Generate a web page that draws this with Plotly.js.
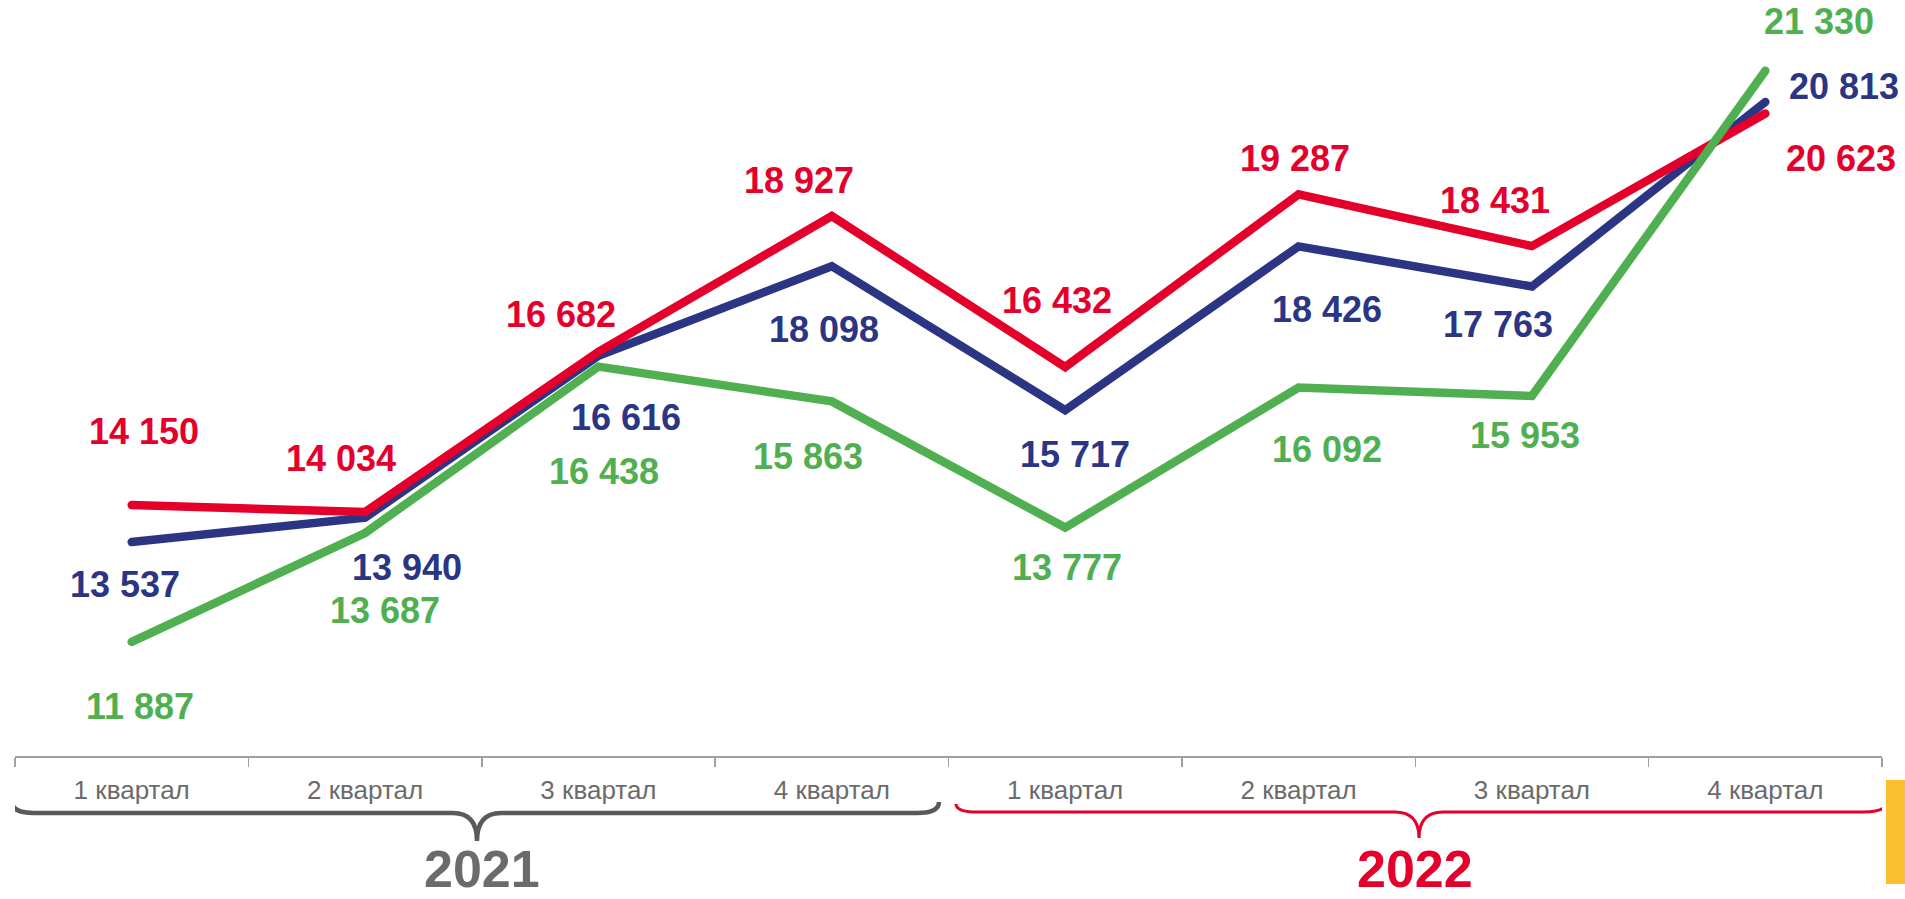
<!DOCTYPE html>
<html>
<head>
<meta charset="utf-8">
<script src="https://cdn.plot.ly/plotly-3.0.1.min.js"></script>
<style>
  html, body { margin: 0; padding: 0; background: #fff; }
  #chart { width: 1905px; height: 899px; }
  .scatterlayer .js-line { stroke-linecap: round; }
</style>
</head>
<body>
<div id="chart"></div>
<script>
// ---------- data ----------
const quarters = ['1 квартал', '2 квартал', '3 квартал', '4 квартал',
                  '1 квартал', '2 квартал', '3 квартал', '4 квартал'];
const years = ['2021', '2022'];
const redValues   = [14150, 14034, 16682, 18927, 16432, 19287, 18431, 20623];
const blueValues  = [13537, 13940, 16616, 18098, 15717, 18426, 17763, 20813];
const greenValues = [11887, 13687, 16438, 15863, 13777, 16092, 15953, 21330];

// ---------- styling / placement ----------
const RED = '#E4002B', BLUE = '#2B3584', GREEN = '#50AF50', GREY = '#6B6B6B';
const W = 1905, H = 899, L = 15, R = 23, T = 3, B = 143;
const PW = W - L - R, PH = H - T - B;
const px2x = px => -0.5 + (px - L) / PW * quarters.length;
const px2p = px => (px - L) / PW;
const py2p = py => 1 - (py - T) / PH;

// pixel offsets of each value label from its point [xshift, yshift]
const redOffsets   = [[12, 74], [-24, 54], [-37, 37], [-33, 36], [-8, 66], [-4, 36], [-37, 46], [76, -45]];
const blueOffsets  = [[-7, -42], [42, -50], [28, -62], [-8, -63], [10, -44], [28, -63], [-34, -38], [79, 16]];
const greenOffsets = [[8, -65], [20, -77], [6, -105], [-24, -55], [2, -40], [28, -62], [-7, -40], [54, 49]];

const xIdx = quarters.map((_, i) => i);
const fmt = v => String(v).replace(/\B(?=(\d{3})+(?!\d))/g, ' ');

function lineTrace(vals, color) {
  return { x: xIdx, y: vals, type: 'scatter', mode: 'lines',
           line: { color: color, width: 8.5 }, hoverinfo: 'skip', showlegend: false };
}
const traces = [
  lineTrace(blueValues, BLUE),
  lineTrace(redValues, RED),
  lineTrace(greenValues, GREEN),
  // invisible trace carrying the quarter tick labels on xaxis2
  { x: xIdx, y: redValues, xaxis: 'x2', type: 'scatter', mode: 'none', hoverinfo: 'skip', showlegend: false }
];

const annotations = [];
function addLabels(vals, offsets, color) {
  vals.forEach((v, i) => {
    annotations.push({
      x: i, y: v, xref: 'x', yref: 'y', text: fmt(v), showarrow: false,
      xanchor: 'center', yanchor: 'middle',
      xshift: offsets[i][0], yshift: offsets[i][1],
      font: { family: 'Liberation Sans, Arial, sans-serif', size: 36, weight: 'bold', color: color }
    });
  });
}
addLabels(redValues, redOffsets, RED);
addLabels(blueValues, blueOffsets, BLUE);
addLabels(greenValues, greenOffsets, GREEN);

// year titles
const yearColors = [GREY, RED];
years.forEach((yr, k) => {
  annotations.push({
    x: k * 4 + 1.5, xref: 'x', y: py2p(869), yref: 'paper', text: yr, showarrow: false,
    xanchor: 'center', yanchor: 'middle', borderpad: 0,
    font: { family: 'Liberation Sans, Arial, sans-serif', size: 52, weight: 'bold', color: yearColors[k] }
  });
});

// curly braces
function bracePath(x0, x1, xm, yEnd, yBar, yTip, r, r2) {
  const P = (x, y) => px2x(x).toFixed(4) + ',' + py2p(y).toFixed(4);
  return 'M' + P(x0, yEnd) +
         ' Q' + P(x0, yBar) + ' ' + P(x0 + r, yBar) +
         ' L' + P(xm - r2, yBar) +
         ' Q' + P(xm, yBar) + ' ' + P(xm, yTip) +
         ' Q' + P(xm, yBar) + ' ' + P(xm + r2, yBar) +
         ' L' + P(x1 - r, yBar) +
         ' Q' + P(x1, yBar) + ' ' + P(x1, yEnd);
}
const shapes = [
  { type: 'path', xref: 'x', yref: 'paper', path: bracePath(12, 939, 477, 802, 813, 841, 22, 24),
    line: { color: '#5A5A5A', width: 4.5 } },
  { type: 'path', xref: 'x', yref: 'paper', path: bracePath(956, 1885, 1419, 804, 812, 838, 22, 24),
    line: { color: RED, width: 3 } },
  { type: 'rect', xref: 'paper', yref: 'paper', x0: px2p(1886), x1: px2p(1910), y0: py2p(780), y1: py2p(884),
    fillcolor: '#FBBF2E', line: { width: 0 } }
];

const boundaries = Array.from({ length: quarters.length + 1 }, (_, i) => i - 0.5);

const layout = {
  width: W, height: H,
  margin: { l: L, r: R, t: T, b: B, pad: 0 },
  paper_bgcolor: '#ffffff', plot_bgcolor: '#ffffff',
  showlegend: false,
  xaxis: {
    range: [-0.5, quarters.length - 0.5], fixedrange: true,
    tickmode: 'array', tickvals: boundaries, ticktext: boundaries.map(() => ''),
    ticks: 'outside', ticklen: 9, tickwidth: 1.5, tickcolor: '#A0A0A0',
    showline: true, linecolor: '#A0A0A0', linewidth: 1.5,
    showgrid: false, zeroline: false
  },
  xaxis2: {
    overlaying: 'x', anchor: 'y', side: 'bottom',
    range: [-0.5, quarters.length - 0.5], fixedrange: true,
    tickmode: 'array', tickvals: xIdx, ticktext: quarters,
    ticks: '', showline: false, showgrid: false, zeroline: false,
    ticklabelstandoff: 16,
    tickfont: { family: 'Liberation Sans, Arial, sans-serif', size: 26, color: GREY }
  },
  yaxis: { range: [10000, 22450], visible: false, fixedrange: true, showgrid: false, zeroline: false },
  annotations: annotations,
  shapes: shapes
};

Plotly.newPlot('chart', traces, layout, { staticPlot: true, displayModeBar: false });
</script>
</body>
</html>
